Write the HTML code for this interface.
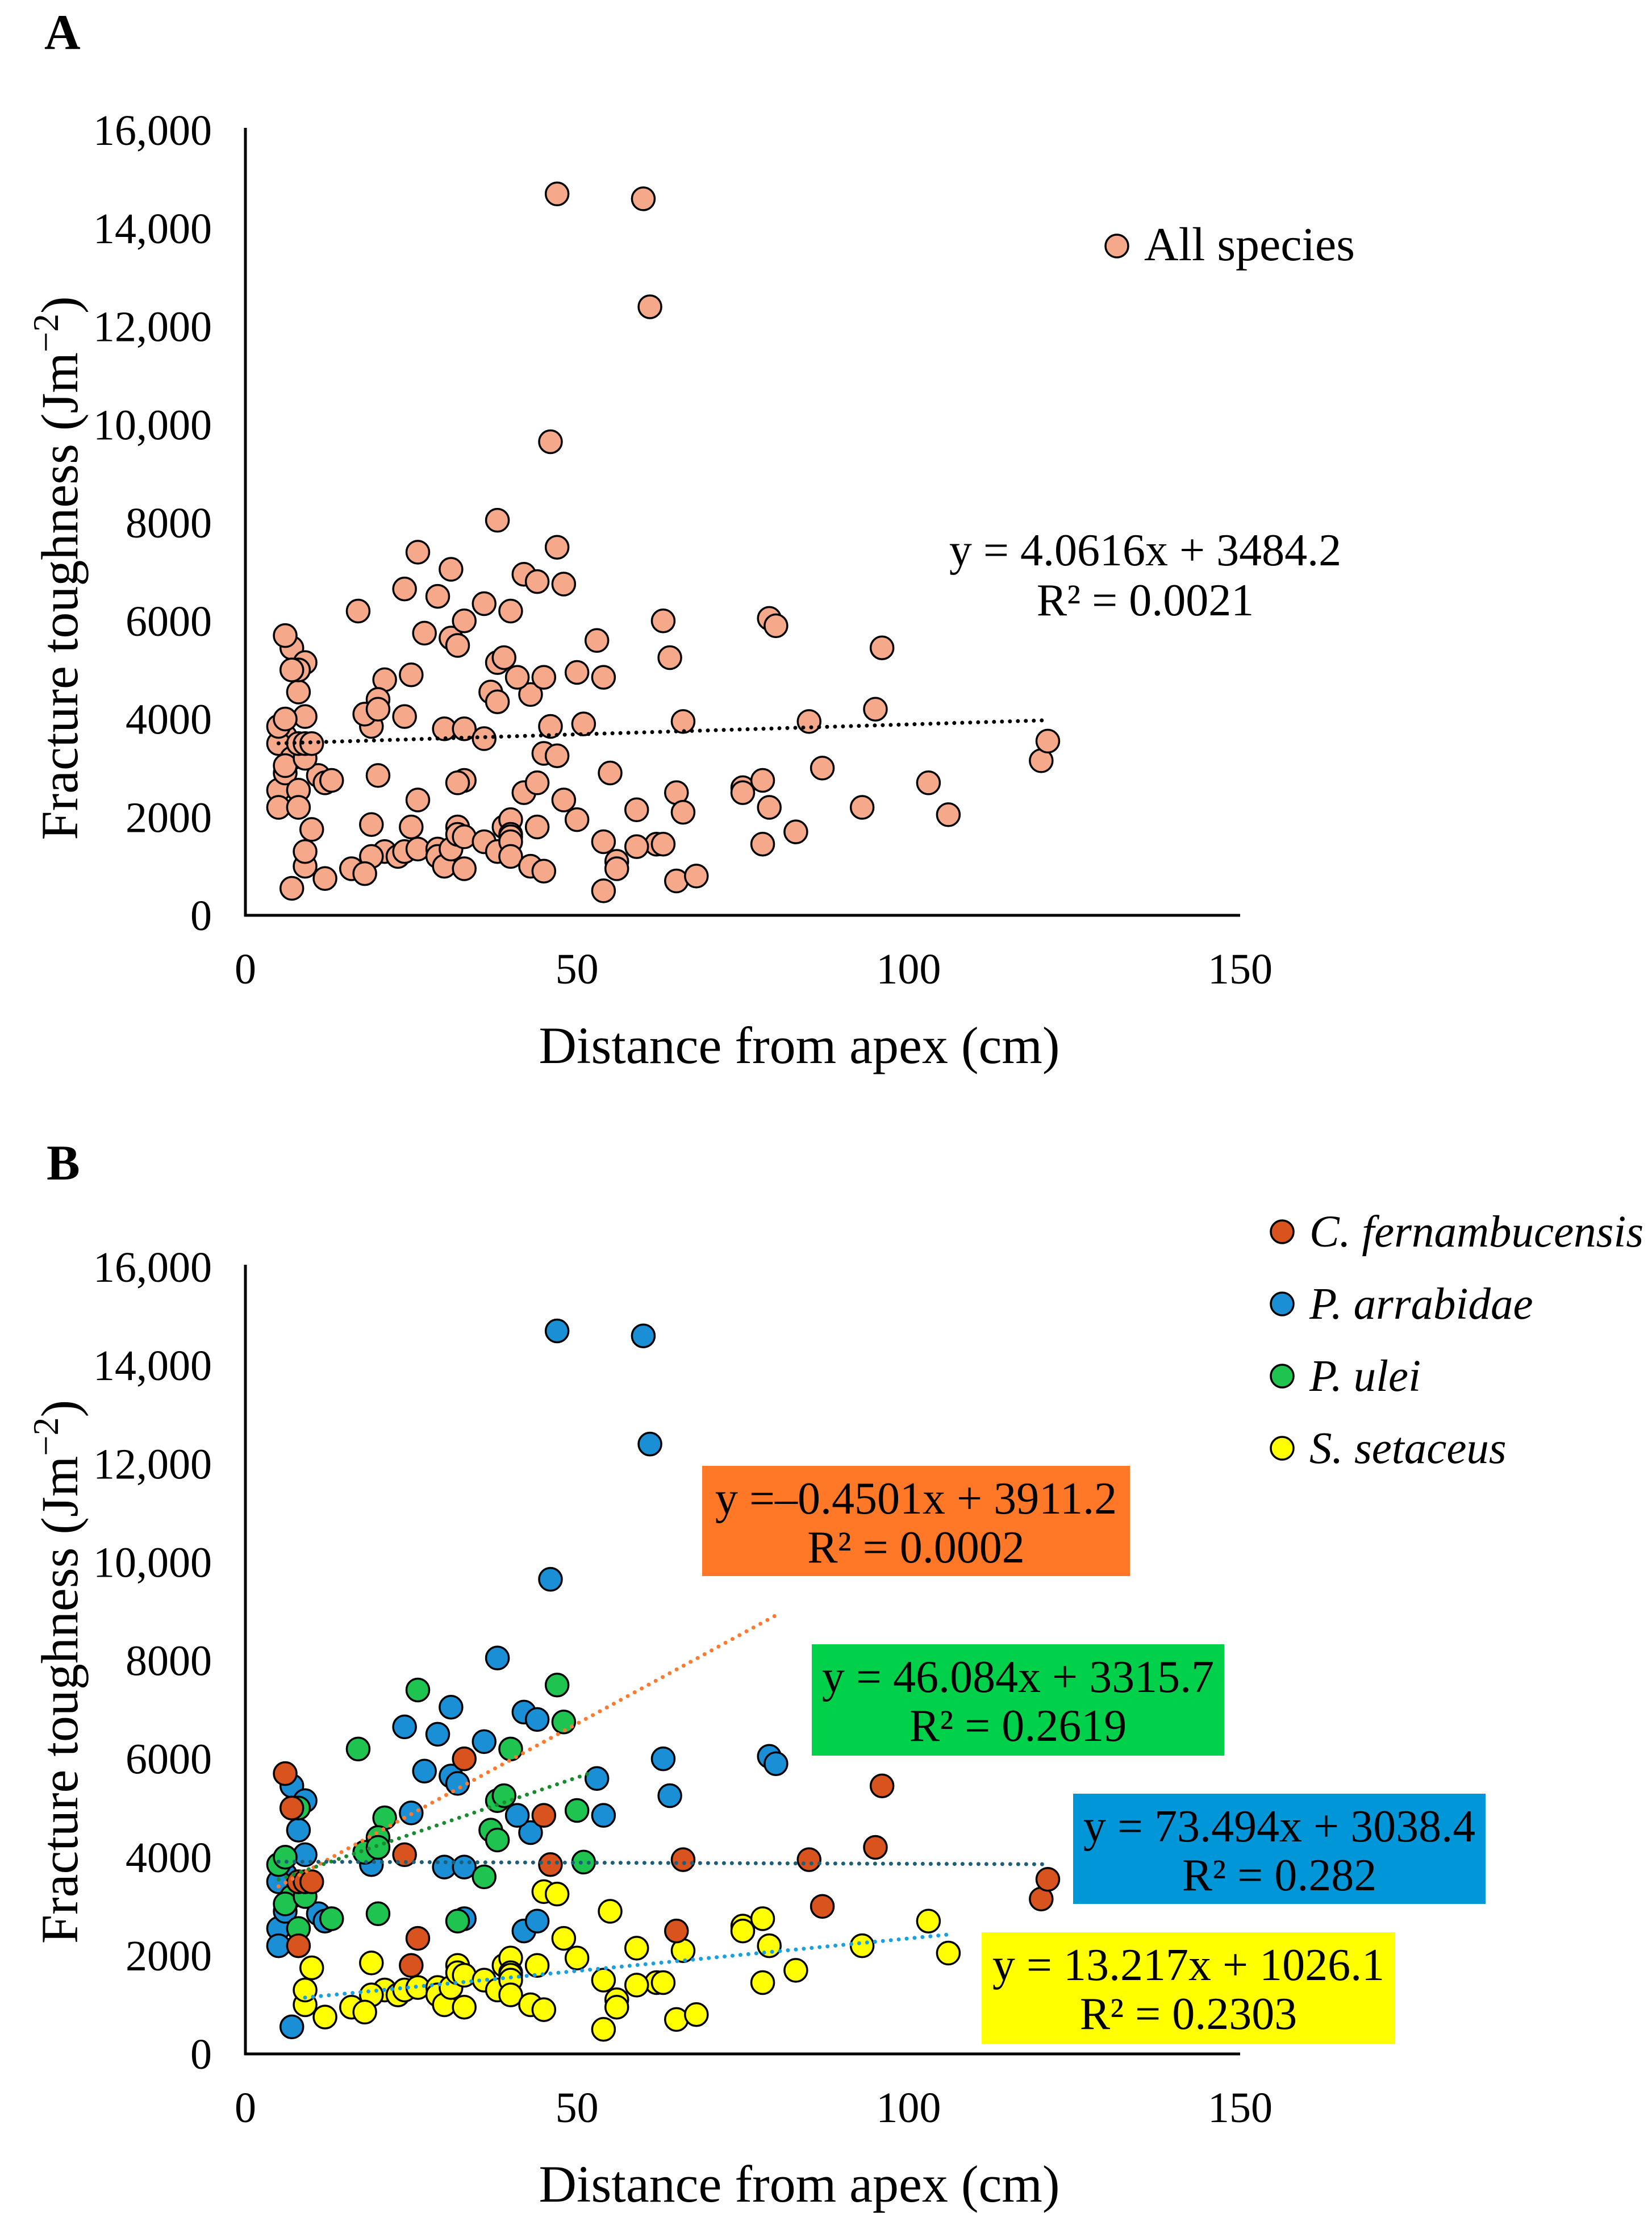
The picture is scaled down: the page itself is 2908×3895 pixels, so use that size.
<!DOCTYPE html>
<html><head><meta charset="utf-8"><style>
html,body{margin:0;padding:0;background:#fff}
svg{display:block}
text{font-family:"Liberation Serif",serif;fill:#000}
</style></head><body>
<svg id="chart" width="2908" height="3895" viewBox="0 0 2908 3895">
<text x="78" y="86" font-size="88" font-weight="bold">A</text>
<text x="82" y="2076" font-size="88" font-weight="bold">B</text>
<g id="pa"></g>
<g id="pb"></g>
</svg>
<script>
const NS='http://www.w3.org/2000/svg';
const pX=[47,60,61,46,38,42,44,31,24,29,36,27,31,32,53,63,64,79,80,54,43,25,41,7,9,8,9,19,30,33,6,5,5,5,7,11,12,33,42,44,6];
const pY=[14700,14600,12400,9650,8050,6950,6800,7050,6650,6500,6350,5750,5650,5500,5600,6000,5250,6050,5900,4850,4500,4900,4850,5450,5150,4550,4050,3850,3800,3800,3650,3500,2550,2200,550,2850,2700,2750,2500,2700,2900];
const uX=[26,47,17,48,40,38,39,21,20,18,20,50,37,38,51,36,32,20,13,5,6,7,6,8,8,9];
const uY=[7400,7500,6200,6750,6200,5150,5250,4800,4400,4100,4200,4950,4550,4350,3900,3600,2700,2850,2750,3850,4000,3200,3050,5000,2550,3200];
const cX=[6,7,8,9,10,33,24,26,25,45,46,66,85,87,95,96,65,120,121,8];
const cY=[5700,5000,3500,3500,3500,6000,4050,2350,1800,4850,3850,3950,3950,3000,4200,5450,2500,3150,3550,2200];
const sX=[45,47,55,48,75,78,79,66,93,103,106,83,78,50,59,62,59,56,56,63,54,65,68,54,10,19,21,19,23,24,26,29,29,30,31,32,32,33,33,36,38,39,40,40,40,40,40,43,44,45,12,16,18,9,9,75];
const sY=[3300,3250,2900,2350,2600,2750,2200,2100,2200,2700,2050,1700,1450,1950,2150,1450,1400,1100,950,1450,1500,700,800,500,1750,1850,1300,1200,1200,1300,1350,1350,1200,1000,1350,1800,1650,950,1600,1500,1300,1800,1950,1650,1600,1500,1200,1000,1800,900,750,950,850,1000,1300,2500];
const xTicks=[0,50,100,150];
const yTicks=[0,2000,4000,6000,8000,10000,12000,14000,16000];
const yTickLabels=['0','2000','4000','6000','8000','10,000','12,000','14,000','16,000'];
const trendA=[4.0616,3484.2,5,121];
const trendB_slope=[73.494,46.084,-0.4501,13.217];
const trendB_int=[3038.4,3315.7,3911.2,1026.1];
const trendB_x0=[5,5,5,9];
const trendB_x1=[80,52,121,106];
const trendB_col=['#ff7a2e','#1a8a2e','#1b5f7a','#1aa0e0'];

const X0=432,X1=2183;
function mk(t,a,p){const e=document.createElementNS(NS,t);for(const k in a)e.setAttribute(k,a[k]);p.appendChild(e);return e;}
function axes(g,Y0,Y1,name,titleShift){
  const sx=v=>X0+(X1-X0)*v/150, sy=v=>Y0-(Y0-Y1)*v/16000;
  let l=mk('line',{x1:X0,y1:Y1-4,x2:X0,y2:Y0+2,stroke:'#000','stroke-width':5},g);
  
  l=mk('line',{x1:X0-2,y1:Y0,x2:X1,y2:Y0,stroke:'#000','stroke-width':5},g);
  
  yTicks.forEach((v,i)=>{const t=mk('text',{x:373,y:sy(v)+26,'font-size':76,'text-anchor':'end'},g);t.textContent=yTickLabels[i];
    });
  xTicks.forEach(v=>{const t=mk('text',{x:sx(v),y:Y0+120,'font-size':76,'text-anchor':'middle'},g);t.textContent=v;
    });
  let t=mk('text',{x:1407,y:Y0+260,'font-size':92,'text-anchor':'middle'},g);t.textContent='Distance from apex (cm)';
  
  const cy=(Y0+Y1)/2+titleShift;
  t=mk('text',{x:0,y:0,'font-size':92,'text-anchor':'middle',transform:`translate(136,${cy}) rotate(-90)`},g);
  t.innerHTML='Fracture toughness (Jm<tspan font-size="64" dy="-34">−2</tspan><tspan dy="34">)</tspan>';
  
  return [sx,sy];
}
function dot(g,x,y,fill,name){const c=mk('circle',{cx:x,cy:y,r:20,fill:fill,stroke:'#000','stroke-width':3.5},g);
  }
function trend(g,sx,sy,m,b,x0,x1,col,name){const l=mk('line',{x1:sx(x0),y1:sy(m*x0+b),x2:sx(x1),y2:sy(m*x1+b),stroke:col,'stroke-width':7,'stroke-dasharray':'0 14','stroke-linecap':'round'},g);
  }

const ga=document.getElementById('pa');
const [ax,ay]=axes(ga,1611,229,'panel-a',80);
const allX=pX.concat(uX,cX,sX), allY=pY.concat(uY,cY,sY);
allX.forEach((v,i)=>dot(ga,ax(v),ay(allY[i]),'#f6a88a','point-all-species'));
trend(ga,ax,ay,trendA[0],trendA[1],trendA[2],trendA[3],'#000','trendline-all');
dot(ga,1966,433,'#f6a88a','legend-marker-all');
let t=mk('text',{x:2014,y:458,'font-size':84},ga);t.textContent='All species';

t=mk('text',{x:2016,y:995,'font-size':80,'text-anchor':'middle'},ga);t.textContent='y = 4.0616x + 3484.2';

t=mk('text',{x:2016,y:1083,'font-size':80,'text-anchor':'middle'},ga);t.textContent='R² = 0.0021';


const gb=document.getElementById('pb');
const [bx,by]=axes(gb,3615,2230,'panel-b',20);
const sets=[[pX,pY,'#1a8fd6','point-p-arrabidae'],[uX,uY,'#1fc350','point-p-ulei'],[cX,cY,'#d9531e','point-c-fernambucensis'],[sX,sY,'#ffff00','point-s-setaceus']];
[sets[3],sets[0],sets[1],sets[2]].forEach(s=>s[0].forEach((v,i)=>dot(gb,bx(v),by(s[1][i]),s[2],s[3])));
trendB_slope.forEach((m,i)=>trend(gb,bx,by,m,trendB_int[i],trendB_x0[i],trendB_x1[i],trendB_col[i],'trendline-'+i));
const leg=[['#d9531e','C. fernambucensis'],['#1a8fd6','P. arrabidae'],['#1fc350','P. ulei'],['#ffff00','S. setaceus']];
leg.forEach((L,i)=>{const y=2168+i*127;dot(gb,2257,y,L[0],'legend-marker');
  const tt=mk('text',{x:2305,y:y+26,'font-size':79,'font-style':'italic'},gb);tt.textContent=L[1];
  });
const boxes=[[1236,2580,753,194,'#ff7828','y =–0.4501x + 3911.2','R² = 0.0002'],
 [1429,2894,726,196,'#00d04a','y = 46.084x + 3315.7','R² = 0.2619'],
 [1889,3157,726,194,'#0096d8','y = 73.494x + 3038.4','R² = 0.282'],
 [1728,3401,728,196,'#ffff00','y = 13.217x + 1026.1','R² = 0.2303']];
boxes.forEach(B=>{const r=mk('rect',{x:B[0],y:B[1],width:B[2],height:B[3],fill:B[4]},gb);
  
  const cx=B[0]+B[2]/2;
  let a=mk('text',{x:cx,y:B[1]+84,'font-size':80,'text-anchor':'middle'},gb);a.textContent=B[5];
  
  a=mk('text',{x:cx,y:B[1]+170,'font-size':80,'text-anchor':'middle'},gb);a.textContent=B[6];
  });
</script>
</body></html>
